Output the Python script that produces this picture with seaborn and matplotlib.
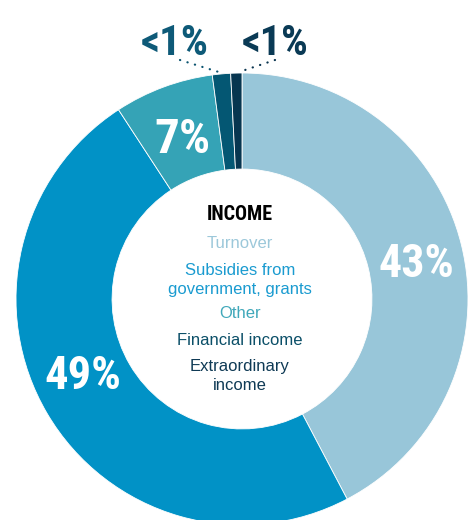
import matplotlib
matplotlib.use("Agg")
import matplotlib.pyplot as plt
from matplotlib import font_manager as fm
import seaborn as sns

categories = ["Turnover", "Subsidies from\ngovernment, grants", "Other", "Financial income", "Extraordinary\nincome"]
values = [42.3, 48.5, 7.1, 1.3, 0.8]
pct_labels = ["43%", "49%", "7%", "<1%", "<1%"]
colors = ["#98C6D9", "#0192C6", "#35A3B6", "#045773", "#073650"]
text_colors = ["#9CC8DA", "#1A9BD0", "#40A8BA", "#0B4F68", "#0F3A55"]

sns.set_theme(style="white")
plt.rcParams['font.family'] = ['Liberation Sans', 'DejaVu Sans']

# pick a condensed bold face if one is installed
avail = [(f.name, f.stretch) for f in fm.fontManager.ttflist]
names = {a[0] for a in avail}
cond = None
for cand in ["Roboto Condensed", "Liberation Sans Narrow", "Open Sans Condensed", "Noto Sans Condensed"]:
    if cand in names:
        cond = dict(family=[cand, "DejaVu Sans"], fontweight="bold")
        break
if cond is None:
    if any(n == "DejaVu Sans" and s in ("condensed", "semi-condensed") for n, s in avail):
        cond = dict(family=["DejaVu Sans"], fontweight="bold", fontstretch="condensed")
    elif any(n == "Roboto" for n in names):
        cond = dict(family=["Roboto", "DejaVu Sans"], fontweight="bold")
    else:
        cond = dict(family=["Liberation Sans", "DejaVu Sans"], fontweight="bold")

fig = plt.figure(figsize=(4.68, 5.2), dpi=100)
cx, cy, R = 242, 299, 226
W, H = 468, 520
ax = fig.add_axes([(cx - R) / W, (H - cy - R) / H, 2 * R / W, 2 * R / H])
ax.pie(values, colors=colors, startangle=90, counterclock=False, radius=1,
       wedgeprops=dict(width=0.425, edgecolor="white", linewidth=0.6))
ax.set_xlim(-1, 1)
ax.set_ylim(-1, 1)
ax.axis("off")

def d(px, py):
    return (px - cx) / R, (cy - py) / R

fig.canvas.draw()
renderer = fig.canvas.get_renderer()

def fit(t, target_w):
    w = t.get_window_extent(renderer).width
    if w > 0:
        t.set_fontsize(t.get_fontsize() * target_w / w)

# percentage labels
pos = [(416, 277, "white", 76), (83, 389, "white", 77), (182, 153, "white", 56),
       (175, 55, "#0E5A78", 68), (275, 55, "#0A3A55", 67)]
for lab, (px, py, c, tw) in zip(pct_labels, pos):
    x, y = d(px, py)
    t = ax.text(x, y, lab, ha="center", va="baseline", fontsize=30, color=c, **cond)
    fit(t, tw)

# dotted leader lines
for (x0, y0, x1, y1, c) in [(180, 60, 222, 73, "#0B5470"), (275, 60, 239, 72, "#0A3550")]:
    a, b = d(x0, y0)
    e, f = d(x1, y1)
    ax.plot([a, e], [b, f], color=c, lw=1.6, linestyle=(0, (0.1, 3.4)),
            dash_capstyle="round", clip_on=False)

# center legend text
x, y = d(240, 220)
t = ax.text(x, y, "INCOME", ha="center", va="baseline", fontsize=14, color="black", **cond)
fit(t, 67)
baselines = [248, 275, 318, 345, 371]
for cat, c, b in zip(categories, text_colors, baselines):
    x, y = d(240, b)
    lines = cat.split("\n")
    for i, ln in enumerate(lines):
        ax.text(x, y - i * 19 / R, ln, ha="center", va="baseline", fontsize=12, color=c)

fig.savefig("out.png", dpi=100)
